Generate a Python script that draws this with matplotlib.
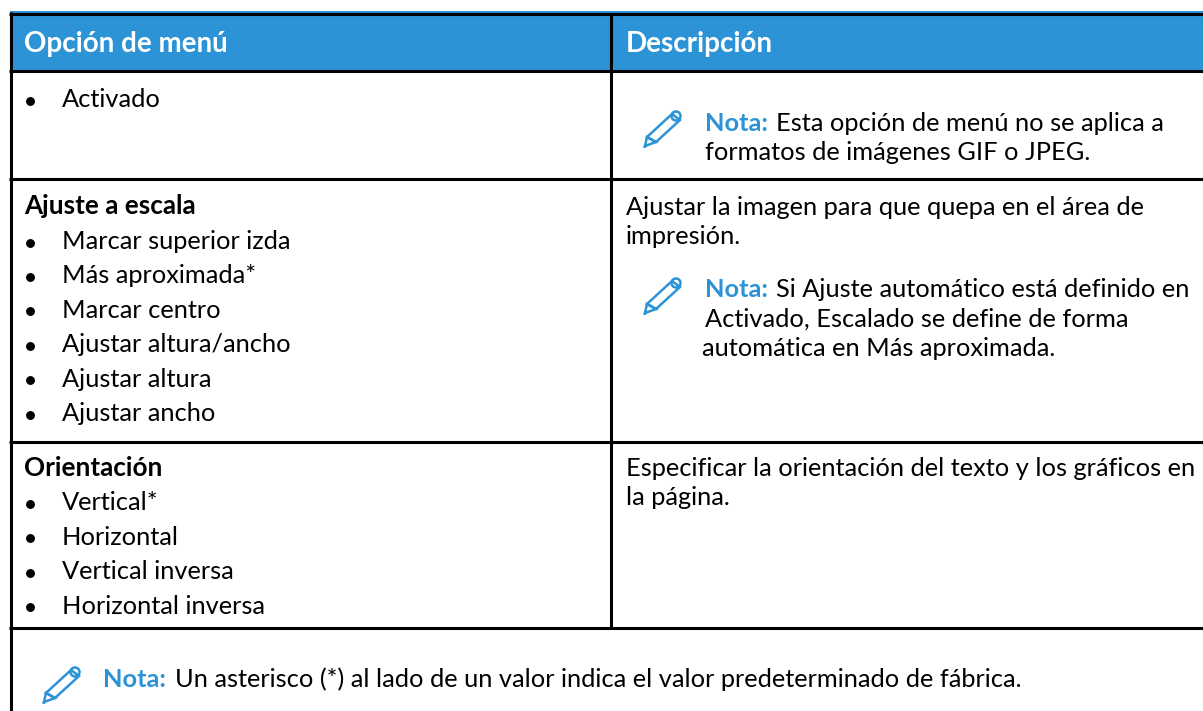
#!/usr/bin/env python3
import matplotlib
matplotlib.use('Agg')
import matplotlib.pyplot as plt
from matplotlib.patches import Rectangle, Polygon, Circle

BLUE = '#2B93D6'
FONT = 'Lato'
SIZE = 18.3

headers = ['Opción de menú', 'Descripción']
row1_items = ['Activado']
row2_title = 'Ajuste a escala'
row2_items = ['Marcar superior izda', 'Más aproximada*', 'Marcar centro',
              'Ajustar altura/ancho', 'Ajustar altura', 'Ajustar ancho']
row3_title = 'Orientación'
row3_items = ['Vertical*', 'Horizontal', 'Vertical inversa', 'Horizontal inversa']
row1_note = ['Esta opción de menú no se aplica a', 'formatos de imágenes GIF o JPEG.']
row2_desc = ['Ajustar la imagen para que quepa en el área de', 'impresión.']
row2_note = ['Si Ajuste automático está definido en', 'Activado, Escalado se define de forma',
             'automática en Más aproximada.']
row3_desc = ['Especificar la orientación del texto y los gráficos en', 'la página.']
foot_note = 'Un asterisco (*) al lado de un valor indica el valor predeterminado de fábrica.'

fig = plt.figure(figsize=(12.03, 7.11), dpi=100)
ax = fig.add_axes([0, 0, 1, 1])
ax.set_xlim(0, 1203)
ax.set_ylim(711, 0)
ax.axis('off')


def put(x, y, s, **kw):
    kw.setdefault('fontsize', SIZE)
    kw.setdefault('color', 'black')
    return ax.text(x, y, s, family=FONT, va='baseline', ha='left', **kw)


def pencil(x, y):
    # lapiz de nota, x/y = esquina arriba a la izquierda
    body = [(x + 3, y + 26), (x + 28, y + 3), (x + 36, y + 9), (x + 12, y + 31)]
    ax.add_patch(Polygon(body, closed=True, fill=False, ec=BLUE, lw=1.8))
    ax.add_patch(Circle((x + 32, y + 5), 4.5, fill=False, ec=BLUE, lw=1.8))
    ax.add_patch(Polygon([(x + 3, y + 26), (x + 12, y + 31), (x + 1, y + 35)],
                         closed=True, fill=False, ec=BLUE, lw=1.8))
    ax.add_patch(Circle((x + 1, y + 35.5), 1.5, color=BLUE, lw=0))


def bullets(items, y0, step=34.4):
    for i, s in enumerate(items):
        y = y0 + i * step
        ax.plot([30], [y - 6.5], 'o', color='black', ms=6.4, mew=0)
        put(62, y, s)


def note(x, y, lines, step=29.3, indent=71):
    put(x, y, 'Nota:', color=BLUE, fontweight='bold')
    for i, s in enumerate(lines):
        if i == 0:
            put(x + indent, y, s)
        else:
            put(x - (3 if i == 2 else 0), y + i * step, s)


ax.add_patch(Rectangle((10, 11), 1193, 60, color=BLUE, lw=0))
put(24, 52, headers[0], color='white', fontsize=20, fontweight='bold')
put(626, 52, headers[1], color='white', fontsize=20, fontweight='bold')

for y in [13.5, 71, 179, 441.7, 628]:
    ax.plot([9, 1203], [y, y], color='black', lw=2.2, solid_capstyle='butt')
ax.plot([10.5, 10.5], [12, 711], color='black', lw=2.2, solid_capstyle='butt')
ax.plot([611, 611], [13, 628], color='black', lw=2.2, solid_capstyle='butt')

bullets(row1_items, 107)
put(24, 214, row2_title, fontsize=18.8, fontweight='bold')
bullets(row2_items, 249)
put(24, 476, row3_title, fontsize=18.8, fontweight='bold')
bullets(row3_items, 510.5)

pencil(644, 111)
note(705, 131, row1_note)
for i, s in enumerate(row2_desc):
    put(626, 215 + i * 29, s)
pencil(644, 278)
note(705, 297, row2_note)
for i, s in enumerate(row3_desc):
    put(626, 476 + i * 29, s)
pencil(43, 667)
put(103, 687, 'Nota:', color=BLUE, fontweight='bold')
put(175, 687, foot_note)

fig.savefig('out.png', dpi=100, facecolor='white')
